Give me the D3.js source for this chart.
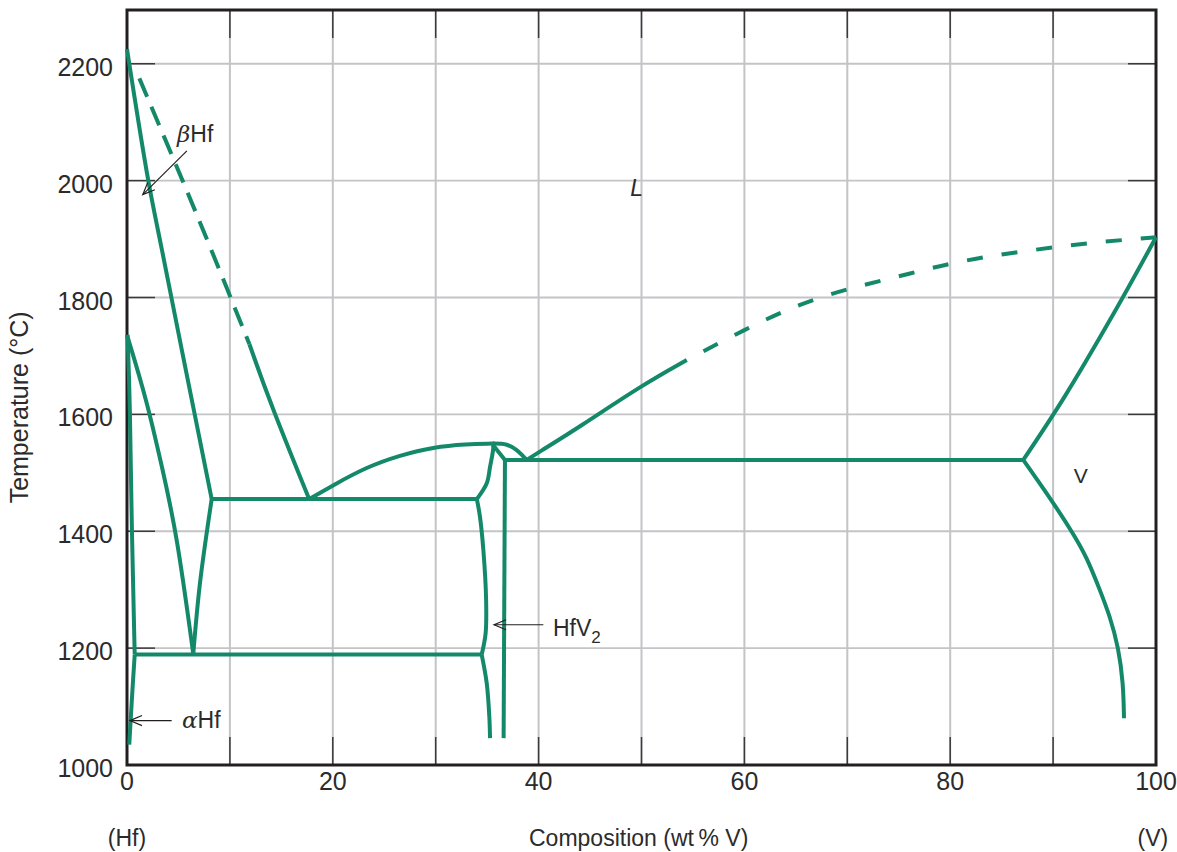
<!DOCTYPE html>
<html><head><meta charset="utf-8">
<script src="https://cdn.jsdelivr.net/npm/d3@7/dist/d3.min.js"></script>
<style>body{margin:0;background:#fff}svg{display:block}</style>
</head><body>
<svg id="c" width="1177" height="852"></svg>
<script>
// ---- data ----
const xTicks = [0,20,40,60,80,100];
const yTicks = [1000,1200,1400,1600,1800,2000,2200];
const xGrid = [10,20,30,40,50,60,70,80,90];
const yGrid = [1200,1400,1600,1800,2000,2200];

const betaSolidus = [[0,2225],[2.07,2000],[3.4,1881],[5.5,1695],[8.23,1455]];
const betaLiquidusDashed = [[1.2,2175],[5.4,2000],[8.2,1881],[11.9,1720]];
const betaLiquidusSolid = [[11.9,1720],[13.9,1620],[17.7,1455]];
const betaAlphaBoundary = [[0,1736],[1.91,1625],[3.4,1510],[4.83,1397],[6.44,1190]];
const betaEutectoidRight = [[6.44,1190],[7.09,1311],[8.23,1455]];
const alphaUpper = [[0.05,1736],[0.29,1625],[0.46,1397],[0.75,1189]];
const alphaLower = [[0.75,1189],[0.5,1120],[0.22,1035]];
const eutectoidLine = [[0.75,1189],[34.47,1189]];
const eutecticLeft = [[8.23,1455],[34.0,1455]];
const liquidusLeft = [[17.7,1455],[20.05,1479],[23.3,1510],[26.53,1530],[29.77,1544],[33.01,1549],[35.44,1550]];
const hfv2Dome = [[35.44,1550],[36.9,1548],[37.87,1539],[38.51,1528],[38.84,1522]];
const liquidusRightSolid = [[38.84,1522],[39.82,1533],[44.02,1579],[50.05,1650],[54.4,1693]];
const liquidusRightDashed = [[54.4,1693],[60,1745],[65,1787],[70,1815],[75,1836],[80,1859],[85,1874],[90,1886],[95,1896],[100,1903]];
const hfv2LeftUpper = [[34.0,1455],[34.96,1482],[35.28,1510],[35.6,1545],[35.5,1553]];
const hfv2Top = [[35.55,1548],[36.73,1522]];
const hfv2Right = [[36.73,1522],[36.6,1046]];
const hfv2LeftMid = [[34.0,1455],[34.3,1425],[34.63,1368],[34.9,1282],[34.85,1225],[34.47,1189]];
const hfv2LeftLow = [[34.47,1189],[34.96,1140],[35.21,1083],[35.28,1046]];
const eutecticRight = [[36.73,1522],[87.1,1522]];
const vSolidus = [[87.1,1522],[91,1627],[95.8,1770],[100,1903]];
const vSolvus = [[87.1,1522],[89.86,1453],[91.96,1396],[93.26,1356],[94.56,1299],[95.53,1254],[96.34,1202],[96.82,1140],[96.89,1080]];

// annotations (data coords)
const arrows = [
  {from:[5.82,2051], to:[1.53,1976]},
  {from:[40.46,1240], to:[35.67,1240]},
  {from:[4.34,1076], to:[0.29,1076]}
];

// ---- drawing ----
const svg = d3.select('#c');
const xs = d3.scaleLinear().domain([0,100]).range([127,1156]);
const ys = d3.scaleLinear().domain([1000,2292]).range([765,10]);
const GREEN = '#14896a', INK = '#2b2b2b', GRID = '#c4c4c7';
const FONT = '"Liberation Sans", Arial, sans-serif';

// grid
svg.append('g').selectAll('line').data(xGrid).join('line')
  .attr('x1', d=>xs(d)).attr('x2', d=>xs(d)).attr('y1', ys(2292)).attr('y2', ys(1000))
  .attr('stroke', GRID).attr('stroke-width', 2);
svg.append('g').selectAll('line').data(yGrid).join('line')
  .attr('x1', xs(0)).attr('x2', xs(100)).attr('y1', d=>ys(d)).attr('y2', d=>ys(d))
  .attr('stroke', GRID).attr('stroke-width', 1.8);

// inner ticks
const TL = 28;
const tg = svg.append('g').attr('stroke', '#3a3a3a').attr('stroke-width', 1.5);
xGrid.forEach(d=>{
  tg.append('line').attr('x1', xs(d)).attr('x2', xs(d)).attr('y1', ys(1000)).attr('y2', ys(1000)-TL);
  tg.append('line').attr('x1', xs(d)).attr('x2', xs(d)).attr('y1', ys(2292)).attr('y2', ys(2292)+TL);
});
yGrid.forEach(d=>{
  tg.append('line').attr('x1', xs(0)).attr('x2', xs(0)+TL).attr('y1', ys(d)).attr('y2', ys(d));
  tg.append('line').attr('x1', xs(100)).attr('x2', xs(100)-TL).attr('y1', ys(d)).attr('y2', ys(d));
});

// frame
svg.append('rect').attr('x', xs(0)).attr('y', ys(2292)).attr('width', xs(100)-xs(0)).attr('height', ys(1000)-ys(2292))
  .attr('fill', 'none').attr('stroke', '#231f20').attr('stroke-width', 3);

// curves
const lineC = d3.line().x(d=>xs(d[0])).y(d=>ys(d[1])).curve(d3.curveCatmullRom.alpha(0.5));
const lineB = d3.line().x(d=>xs(d[0])).y(d=>ys(d[1])).curve(d3.curveBasis);
const g = svg.append('g').attr('fill','none').attr('stroke', GREEN).attr('stroke-width', 4)
  .attr('stroke-linejoin','round');
[betaSolidus, betaEutectoidRight, alphaLower,
 eutectoidLine, eutecticLeft, hfv2Dome, hfv2LeftUpper, hfv2Top,
 hfv2Right, hfv2LeftMid, hfv2LeftLow, eutecticRight, vSolidus]
 .forEach(arr => g.append('path').attr('d', lineC(arr)));
[betaLiquidusSolid, betaAlphaBoundary, alphaUpper, liquidusLeft, liquidusRightSolid, vSolvus]
 .forEach(arr => g.append('path').attr('d', lineB(arr)));
g.append('path').attr('d', lineC(betaLiquidusDashed)).attr('stroke-dasharray','20,11');
g.append('path').attr('d', lineB(liquidusRightDashed)).attr('stroke-dasharray','16,19').attr('stroke-dashoffset', 16);

// arrows
const ag = svg.append('g').attr('stroke', '#231f20').attr('stroke-width', 1.2).attr('fill','none');
arrows.forEach(a=>{
  const x1 = xs(a.from[0]), y1 = ys(a.from[1]), x2 = xs(a.to[0]), y2 = ys(a.to[1]);
  ag.append('line').attr('x1',x1).attr('y1',y1).attr('x2',x2).attr('y2',y2);
  const ang = Math.atan2(y1-y2, x1-x2), L = 13, w = 0.4;
  ag.append('path').attr('d', `M${x2+L*Math.cos(ang+w)},${y2+L*Math.sin(ang+w)}L${x2},${y2}L${x2+L*Math.cos(ang-w)},${y2+L*Math.sin(ang-w)}`);
});

// tick labels
svg.append('g').selectAll('text').data(yTicks).join('text')
  .attr('x', xs(0)-14).attr('y', d=>ys(d)+12).attr('text-anchor','end')
  .attr('font-family', FONT).attr('font-size', 25).attr('fill', INK).text(d=>d);
svg.append('g').selectAll('text').data(xTicks).join('text')
  .attr('x', d=>xs(d)).attr('y', ys(1000)+25).attr('text-anchor','middle')
  .attr('font-family', FONT).attr('font-size', 25).attr('fill', INK).text(d=>d);

// axis titles
svg.append('text').attr('transform', `translate(28,${ys(1612)}) rotate(-90)`).attr('text-anchor','middle')
  .attr('font-family', FONT).attr('font-size', 25).attr('fill', INK).text('Temperature (°C)');
svg.append('text').attr('x', 529).attr('y', 846).attr('font-family', FONT).attr('font-size', 23).attr('fill', INK)
  .text('Composition (wt\u2009% V)');
svg.append('text').attr('x', xs(0)).attr('y', 846).attr('text-anchor','middle').attr('font-family', FONT).attr('font-size', 23).attr('fill', INK).text('(Hf)');
svg.append('text').attr('x', xs(99.7)).attr('y', 846).attr('text-anchor','middle').attr('font-family', FONT).attr('font-size', 23).attr('fill', INK).text('(V)');

// region labels
const lab = (x,y,size)=>svg.append('text').attr('x', xs(x)).attr('y', ys(y)).attr('font-family', FONT).attr('font-size', size).attr('fill', INK);
let t = lab(4.86,2066,23);
t.append('tspan').attr('font-style','italic').attr('font-family','"DejaVu Serif", serif').text('β');
t.append('tspan').text('Hf');
lab(48.9,1974,23).attr('font-style','italic').text('L');
lab(92,1483,21).text('V');
t = lab(41.4,1221,23);
t.append('tspan').text('HfV');
t.append('tspan').attr('font-size',17).attr('dy',7).text('2');
t = lab(5.35,1063,23);
t.append('tspan').attr('font-style','italic').attr('font-family','"DejaVu Serif", serif').text('α');
t.append('tspan').text('Hf');
</script>
</body></html>
